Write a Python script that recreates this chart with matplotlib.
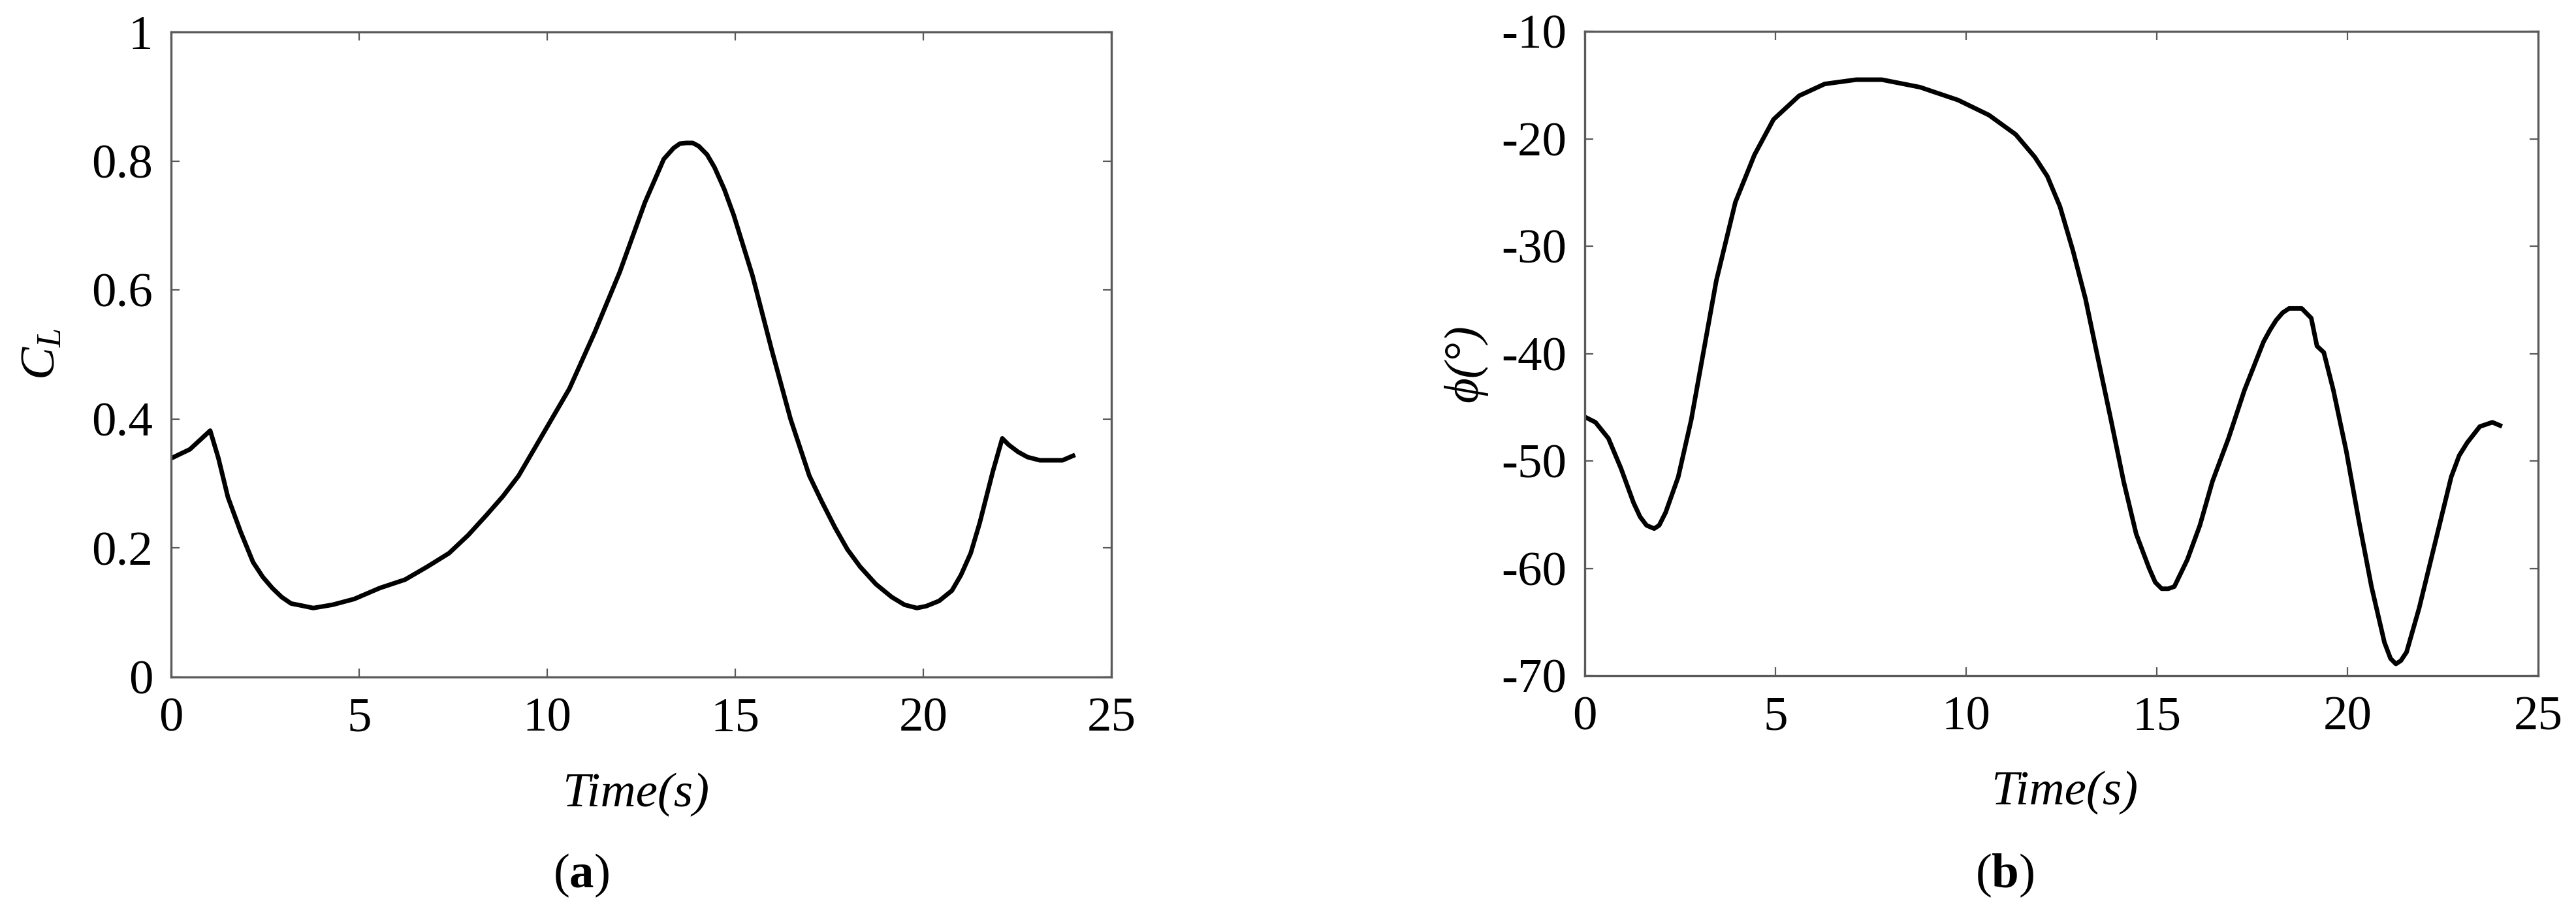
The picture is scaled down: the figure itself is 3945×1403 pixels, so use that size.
import matplotlib
matplotlib.use("Agg")
import matplotlib.pyplot as plt

plt.rcParams['font.family'] = ['Liberation Serif', 'DejaVu Serif']
plt.rcParams['mathtext.fontset'] = 'custom'
plt.rcParams['mathtext.rm'] = 'Liberation Serif'
plt.rcParams['mathtext.it'] = 'Liberation Serif:italic'
plt.rcParams['mathtext.bf'] = 'Liberation Serif:bold'
plt.rcParams['axes.unicode_minus'] = False

# ---- data (a): lift coefficient ----
t_a = [0.0, 0.5, 1.04, 1.26, 1.51, 1.85, 2.18, 2.44, 2.69, 2.94, 3.19, 3.45, 3.78,
       4.29, 4.87, 5.55, 6.22, 6.81, 7.39, 7.9, 8.4, 8.82, 9.24, 9.92, 10.59, 11.26,
       11.93, 12.6, 13.1, 13.36, 13.53, 13.7, 13.87, 14.03, 14.25, 14.45, 14.71,
       14.96, 15.46, 15.97, 16.47, 16.97, 17.3, 17.65, 17.98, 18.32, 18.74, 19.16,
       19.5, 19.83, 20.08, 20.42, 20.76, 21.0, 21.26, 21.5, 21.85, 22.1, 22.27,
       22.52, 22.77, 23.1, 23.7, 23.98]
cl = [0.339, 0.353, 0.382, 0.339, 0.279, 0.225, 0.178, 0.155, 0.138, 0.124, 0.114,
      0.111, 0.107, 0.112, 0.121, 0.138, 0.151, 0.171, 0.192, 0.220, 0.252, 0.280,
      0.312, 0.380, 0.447, 0.534, 0.628, 0.736, 0.803, 0.820, 0.827, 0.828, 0.828,
      0.823, 0.810, 0.790, 0.756, 0.716, 0.622, 0.507, 0.400, 0.312, 0.272, 0.232,
      0.198, 0.171, 0.144, 0.124, 0.112, 0.107, 0.110, 0.118, 0.134, 0.158, 0.192,
      0.239, 0.319, 0.370, 0.360, 0.349, 0.341, 0.336, 0.336, 0.343]

# ---- data (b): angle phi ----
t_b = [0.0, 0.28, 0.62, 0.95, 1.28, 1.45, 1.62, 1.82, 1.95, 2.12, 2.45, 2.79, 3.12,
       3.45, 3.95, 4.45, 4.95, 5.62, 6.29, 7.12, 7.79, 8.79, 9.79, 10.6, 11.3, 11.8,
       12.13, 12.46, 12.8, 13.13, 13.46, 13.8, 14.13, 14.46, 14.8, 14.96, 15.13,
       15.3, 15.46, 15.8, 16.13, 16.46, 16.88, 17.3, 17.8, 17.97, 18.13, 18.3,
       18.47, 18.8, 19.05, 19.2, 19.38, 19.63, 19.97, 20.3, 20.63, 20.97, 21.13,
       21.27, 21.4, 21.55, 21.88, 22.3, 22.72, 22.93, 23.14, 23.47, 23.8, 24.0]
phi = [-45.9, -46.4, -47.9, -50.7, -53.9, -55.2, -56.0, -56.3, -56.0, -54.8, -51.5,
       -46.2, -39.7, -33.2, -25.9, -21.5, -18.2, -16.0, -14.9, -14.5, -14.5, -15.2,
       -16.4, -17.8, -19.6, -21.7, -23.5, -26.3, -30.4, -34.9, -40.5, -46.2, -51.9,
       -56.8, -60.0, -61.3, -61.9, -61.9, -61.7, -59.2, -56.0, -51.9, -47.9, -43.4,
       -38.9, -37.8, -36.9, -36.2, -35.8, -35.8, -36.7, -39.3, -39.9, -43.4, -49.1,
       -55.6, -61.7, -66.9, -68.4, -68.9, -68.6, -67.8, -63.7, -57.6, -51.5, -49.5,
       -48.3, -46.8, -46.4, -46.7]

x_ticks = [0, 5, 10, 15, 20, 25]
cl_ticks = [0, 0.2, 0.4, 0.6, 0.8, 1.0]
cl_ticklabels = ['0', '0.2', '0.4', '0.6', '0.8', '1']
phi_ticks = [-70, -60, -50, -40, -30, -20, -10]
phi_ticklabels = ['-70', '-60', '-50', '-40', '-30', '-20', '-10']

W, H = 3945, 1403
fig = plt.figure(figsize=(W / 100, H / 100), dpi=100)

FS = 54
spine_col = '#5a5a5a'

def style(ax):
    for s in ax.spines.values():
        s.set_color(spine_col)
        s.set_linewidth(2.4)
    ax.tick_params(direction='in', length=9.5, width=1.6, color=spine_col,
                   top=True, right=True, labelsize=FS, labelcolor='black')
    ax.tick_params(axis='x', pad=22)
    ax.tick_params(axis='y', pad=20)

ax1 = fig.add_axes([262 / W, 1 - 1037 / H, 1440 / W, 988 / H])
ax1.plot(t_a, cl, color='black', lw=5, solid_joinstyle='round')
ax1.set_xlim(0, 25)
ax1.set_ylim(0, 1)
ax1.set_xticks(x_ticks)
ax1.set_yticks(cl_ticks)
ax1.set_yticklabels(cl_ticklabels)
style(ax1)
ax1.set_xlabel('Time(s)', fontsize=FS, style='italic', va='top')
ax1.xaxis.set_label_coords(0.494, -0.148)
ax1.set_ylabel(r'$C_L$', fontsize=FS, va='center')
ax1.yaxis.set_label_coords(-0.136, 0.50)

ax2 = fig.add_axes([2427 / W, 1 - 1035 / H, 1460 / W, 987 / H])
ax2.plot(t_b, phi, color='black', lw=5, solid_joinstyle='round')
ax2.set_xlim(0, 25)
ax2.set_ylim(-70, -10)
ax2.set_xticks(x_ticks)
ax2.set_yticks(phi_ticks)
ax2.set_yticklabels(phi_ticklabels)
style(ax2)
ax2.set_xlabel('Time(s)', fontsize=FS, style='italic', va='top')
ax2.xaxis.set_label_coords(0.503, -0.148)
ax2.set_ylabel('ϕ(°)', fontsize=FS, style='italic', va='center')
ax2.yaxis.set_label_coords(-0.125, 0.485)

fig.text(890 / W, 1 - 1305 / H, r'($\mathbf{a}$)', fontsize=FS, ha='center', va='top')
fig.text(3070 / W, 1 - 1305 / H, r'($\mathbf{b}$)', fontsize=FS, ha='center', va='top')

fig.savefig('out.png', dpi=100, facecolor='white')
